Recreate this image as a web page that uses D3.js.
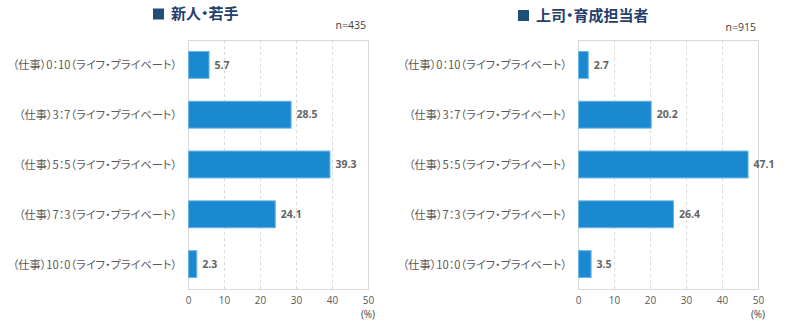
<!DOCTYPE html>
<html>
<head>
<meta charset="utf-8">
<script src="https://cdn.jsdelivr.net/npm/d3@7"></script>
<style>
  html, body { margin: 0; padding: 0; background: #ffffff; }
  svg { display: block; font-family: "Noto Sans CJK JP", "Noto Sans", sans-serif; }
  .cat { font-feature-settings: "palt"; }
</style>
</head>
<body>
<svg id="chart" width="790" height="322"></svg>
<script>
// Work/life balance categories (仕事 : ライフ・プライベート)
const categories = [
  "（仕事）0：10（ライフ・プライベート）",
  "（仕事）3：7（ライフ・プライベート）",
  "（仕事）5：5（ライフ・プライベート）",
  "（仕事）7：3（ライフ・プライベート）",
  "（仕事）10：0（ライフ・プライベート）"
];
// Share of respondents (%)
const youngValues = [5.7, 28.5, 39.3, 24.1, 2.3];
const managerValues = [2.7, 20.2, 47.1, 26.4, 3.5];
const xTicks = [0, 10, 20, 30, 40, 50];
const panelTitles = ["新人・若手", "上司・育成担当者"];
const sampleSizes = ["n=435", "n=915"];

const svg = d3.select("#chart");

function drawPanel(opts) {
  const { left, right, top, bottom, values, title, n, titleX, titleY, nY } = opts;

  const x = d3.scaleLinear().domain([0, 50]).range([left, right]);
  const y = d3.scaleBand().domain(categories).range([top, bottom]).paddingInner(0.46).paddingOuter(0.23);

  const g = svg.append("g");

  // dashed vertical gridlines
  g.append("g").selectAll("line")
    .data(xTicks.filter(t => t > 0 && t < 50))
    .join("line")
    .attr("x1", d => x(d) + 0.5).attr("x2", d => x(d) + 0.5)
    .attr("y1", top).attr("y2", bottom)
    .attr("stroke", "#d9d9d9").attr("stroke-width", 1)
    .attr("stroke-dasharray", "3,3");

  // plot frame
  g.append("rect")
    .attr("x", left + 0.5).attr("y", top + 0.5)
    .attr("width", right - left).attr("height", bottom - top)
    .attr("fill", "none").attr("stroke", "#d9d9d9").attr("stroke-width", 1);

  // bars
  g.append("g").selectAll("rect")
    .data(values)
    .join("rect")
    .attr("x", x(0) + 0.5)
    .attr("y", (d, i) => y(categories[i]))
    .attr("width", d => x(d) - x(0))
    .attr("height", y.bandwidth())
    .attr("fill", "#1b89d0")
    .attr("stroke", "#6ab4e8").attr("stroke-width", 1);

  // value labels
  g.append("g").selectAll("text")
    .data(values)
    .join("text")
    .attr("x", d => x(d) + 6)
    .attr("y", (d, i) => y(categories[i]) + y.bandwidth() / 2)
    .attr("dy", "0.35em")
    .attr("font-size", 10.5).attr("font-weight", "bold")
    .attr("fill", "#636363")
    .attr("font-family", "'Open Sans', 'Noto Sans', sans-serif")
    .text(d => d.toFixed(1));

  // category axis (labels only)
  const yAxis = g.append("g")
    .attr("transform", `translate(${left - 11},0)`)
    .call(d3.axisLeft(y).tickSize(0).tickPadding(0));
  yAxis.select(".domain").remove();
  yAxis.selectAll("text")
    .attr("class", "cat")
    .attr("font-family", "'Noto Sans CJK JP', sans-serif")
    .attr("font-size", 11.2)
    .attr("fill", "#595959")
    .attr("dy", "0.4em");

  // value axis
  const xAxis = g.append("g")
    .attr("transform", `translate(0,${bottom})`)
    .call(d3.axisBottom(x).tickValues(xTicks).tickSize(0).tickPadding(8));
  xAxis.select(".domain").remove();
  xAxis.selectAll("text")
    .attr("font-family", "'Open Sans', 'Noto Sans', sans-serif")
    .attr("font-size", 10)
    .attr("fill", "#595959");

  g.append("text")
    .attr("x", x(50)).attr("y", bottom + 29)
    .attr("text-anchor", "middle")
    .attr("font-family", "'Open Sans', 'Noto Sans', sans-serif")
    .attr("font-size", 10).attr("fill", "#404040")
    .text("(%)");

  // sample size
  g.append("text")
    .attr("x", right - 2).attr("y", nY)
    .attr("text-anchor", "end")
    .attr("font-family", "'Open Sans', 'Noto Sans', sans-serif")
    .attr("font-size", 10.5).attr("fill", "#404040")
    .text(n);

  // title with marker square
  g.append("rect")
    .attr("x", titleX).attr("y", titleY - 5.5)
    .attr("width", 11).attr("height", 11)
    .attr("fill", "#1f4e79");
  g.append("text")
    .attr("class", "cat")
    .attr("x", titleX + 18).attr("y", titleY)
    .attr("dy", "0.36em")
    .attr("font-size", 15).attr("font-weight", "bold")
    .attr("fill", "#25406b")
    .text(title);
}

drawPanel({ left: 188, right: 368, top: 40, bottom: 289, values: youngValues,
  title: panelTitles[0], n: sampleSizes[0], titleX: 153, titleY: 14, nY: 29 });
drawPanel({ left: 578, right: 758, top: 40, bottom: 289, values: managerValues,
  title: panelTitles[1], n: sampleSizes[1], titleX: 518, titleY: 15.5, nY: 31 });
</script>
</body>
</html>
